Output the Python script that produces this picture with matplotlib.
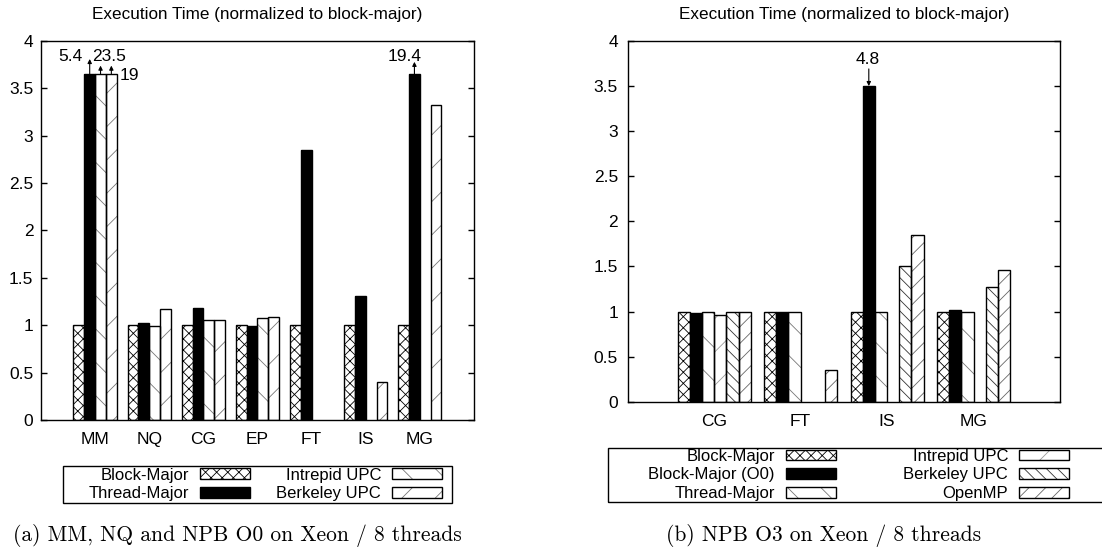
import matplotlib
matplotlib.use("Agg")
import matplotlib.pyplot as plt
import numpy as np
from matplotlib.patches import Patch, Rectangle
from matplotlib.ticker import FuncFormatter

plt.rcParams.update({
    'font.family': ['Liberation Sans', 'DejaVu Sans'],
    'font.size': 12,
    'hatch.linewidth': 0.6,
    'axes.linewidth': 1.0,
})

# ---------------------------------------------------------------- data (a)
CATS_A = ["MM", "NQ", "CG", "EP", "FT", "IS", "MG"]
SERIES_A = ["Block-Major", "Thread-Major", "Intrepid UPC", "Berkeley UPC"]
BLOCK_MAJOR_A = [1.00, 1.00, 1.00, 1.00, 1.00, 1.00, 1.00]
THREAD_MAJOR_A = [5.4, 1.02, 1.18, 0.99, 2.85, 1.31, 19.4]
INTREPID_A = [23.5, 0.99, 1.06, 1.08, np.nan, np.nan, np.nan]
BERKELEY_A = [19.0, 1.17, 1.05, 1.09, np.nan, 0.40, 3.32]
CLIP_A = 3.65

# ---------------------------------------------------------------- data (b)
CATS_B = ["CG", "FT", "IS", "MG"]
SERIES_B = ["Block-Major", "Block-Major (O0)", "Thread-Major",
            "Intrepid UPC", "Berkeley UPC", "OpenMP"]
BLOCK_MAJOR_B = [1.00, 1.00, 1.00, 1.00]
BLOCK_MAJOR_O0_B = [0.98, 0.99, 4.8, 1.02]
THREAD_MAJOR_B = [1.00, 1.00, 1.00, 1.00]
INTREPID_B = [0.96, np.nan, np.nan, np.nan]
BERKELEY_B = [0.99, np.nan, 1.51, 1.27]
OPENMP_B = [0.99, 0.35, 1.85, 1.46]
CLIP_B = 3.5

# style per series: (facecolor, hatch, hatch colour)
STYLE = {
    "Block-Major": ("white", "xxx", "black"),
    "Thread-Major_a": ("black", None, "black"),
    "Block-Major (O0)": ("black", None, "black"),
    "Thread-Major_b": ("white", "\\", "#777777"),
    "Intrepid UPC_a": ("white", "\\", "#777777"),
    "Berkeley UPC_a": ("white", "/", "#777777"),
    "Intrepid UPC_b": ("white", "/", "#999999"),
    "Berkeley UPC_b": ("white", "\\\\\\", "#333333"),
    "OpenMP": ("white", "//", "#666666"),
}


def draw_bars(ax, xs, vals, clip, style):
    face, hatch, hcol = style
    xs = np.asarray(xs, dtype=float)
    vals = np.minimum(np.asarray(vals, dtype=float), clip)
    ok = ~np.isnan(vals)
    ax.bar(xs[ok], vals[ok], width=BW, color=face, edgecolor=hcol,
           hatch=hatch, linewidth=0, zorder=2)
    ax.bar(xs[ok], vals[ok], width=BW, fill=False, edgecolor='black',
           linewidth=1.0, zorder=3)


def handle(style):
    face, hatch, hcol = style
    return (Patch(facecolor=face, edgecolor=hcol, hatch=hatch, linewidth=0),
            Patch(fill=False, edgecolor='black', linewidth=1.0))


def style_axes(ax, cats, xlim, pad_y):
    ax.set_xlim(xlim)
    ax.set_ylim(0, 4)
    ax.set_xticks(range(len(cats)))
    ax.set_xticklabels(cats)
    ax.set_yticks(np.arange(0, 4.01, 0.5))
    ax.yaxis.set_major_formatter(FuncFormatter(lambda v, p: f"{v:g}"))
    ax.tick_params(axis='y', direction='in', right=True, length=4.5, width=1,
                   pad=pad_y, labelsize=12.5)
    ax.tick_params(axis='x', length=0, pad=9, labelsize=12.5)
    ax.set_title("Execution Time (normalized to block-major)", fontsize=12.3, pad=15.5)


def arrow(ax, x, y0, y1):
    ax.annotate('', xy=(x, y1), xytext=(x, y0),
                arrowprops=dict(arrowstyle='-|>', lw=0.8, color='black',
                                mutation_scale=6, shrinkA=0, shrinkB=0), zorder=4)


def legend(handles, labels, anchor, colspace):
    return fig.legend(handles, labels, ncol=2, loc='center right',
                      bbox_to_anchor=anchor, markerfirst=False, frameon=False,
                      borderpad=0, labelspacing=0.22, handlelength=3.0,
                      handleheight=0.6, handletextpad=0.66,
                      columnspacing=colspace, fontsize=12, borderaxespad=0)


fig = plt.figure(figsize=(11.02, 5.5), dpi=100)

# ---------------------------------------------------------------- panel (a)
ax1 = fig.add_axes([0.0372, 0.2364, 0.3929, 0.6891])
BW = 0.2
series_a = [BLOCK_MAJOR_A, THREAD_MAJOR_A, INTREPID_A, BERKELEY_A]
keys_a = ["Block-Major", "Thread-Major_a", "Intrepid UPC_a", "Berkeley UPC_a"]
idx_a = np.arange(len(CATS_A))
for j, (vals, key) in enumerate(zip(series_a, keys_a)):
    draw_bars(ax1, idx_a + (j - 1.5) * BW, vals, CLIP_A, STYLE[key])
style_axes(ax1, CATS_A, (-1, 7), 5.5)

# off-scale labels
arrow(ax1, 0 - 0.1, CLIP_A, 3.81)
ax1.text(0 - 0.24, 3.84, f"{THREAD_MAJOR_A[0]:g}", ha='right', va='center', fontsize=12.5)
arrow(ax1, 0 + 0.1, CLIP_A, 3.74)
ax1.text(0 + 0.26, 3.84, f"{INTREPID_A[0]:g}", ha='center', va='center', fontsize=12.5)
arrow(ax1, 0 + 0.3, CLIP_A, 3.74)
ax1.text(0 + 0.46, 3.64, f"{BERKELEY_A[0]:g}", ha='left', va='center', fontsize=12.5)
arrow(ax1, 6 - 0.1, CLIP_A, 3.78)
ax1.text(6 - 0.28, 3.84, f"{THREAD_MAJOR_A[6]:g}", ha='center', va='center', fontsize=12.5)

fig.patches.append(Rectangle((0.0572, 0.0855), 0.353, 0.0673, transform=fig.transFigure,
                             fill=False, edgecolor='black', linewidth=1.0))
legend([handle(STYLE[k]) for k in keys_a], SERIES_A, (0.4011, 0.1191), 1.56)

# ---------------------------------------------------------------- panel (b)
ax2 = fig.add_axes([0.5696, 0.2696, 0.3923, 0.6559])
BW = 0.141
series_b = [BLOCK_MAJOR_B, BLOCK_MAJOR_O0_B, THREAD_MAJOR_B, INTREPID_B, BERKELEY_B, OPENMP_B]
keys_b = ["Block-Major", "Block-Major (O0)", "Thread-Major_b",
          "Intrepid UPC_b", "Berkeley UPC_b", "OpenMP"]
idx_b = np.arange(len(CATS_B))
for j, (vals, key) in enumerate(zip(series_b, keys_b)):
    draw_bars(ax2, idx_b + (j - 2.5) * BW, vals, CLIP_B, STYLE[key])
style_axes(ax2, CATS_B, (-1, 4), 7)

arrow(ax2, 2 - 1.5 * BW, 3.69, CLIP_B)
ax2.text(2 - 1.5 * BW - 0.015, 3.79, f"{BLOCK_MAJOR_O0_B[2]:g}", ha='center', va='center', fontsize=12.5)

fig.patches.append(Rectangle((0.5517, 0.0873), 0.46, 0.0982, transform=fig.transFigure,
                             fill=False, edgecolor='black', linewidth=1.0))
legend([handle(STYLE[k]) for k in keys_b], SERIES_B, (0.9701, 0.1364), 4.06)

# ---------------------------------------------------------------- captions
fig.text(0.2155, 0.0255, "(a) MM, NQ and NPB O0 on Xeon / 8 threads",
         ha='center', va='center', fontsize=15.5, family='cmr10')
fig.text(0.7473, 0.0255, "(b) NPB O3 on Xeon / 8 threads",
         ha='center', va='center', fontsize=15.5, family='cmr10')

fig.savefig("out.png", dpi=100)
